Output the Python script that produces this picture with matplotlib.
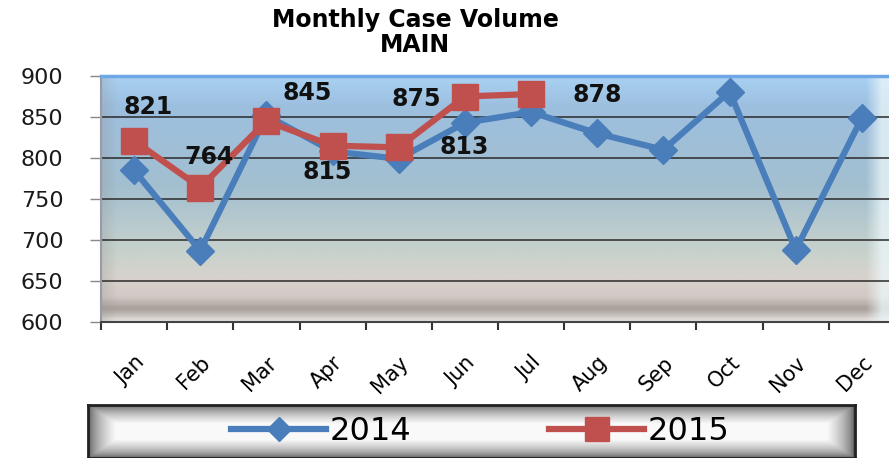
import matplotlib.pyplot as plt
import numpy as np
from matplotlib.colors import LinearSegmentedColormap

months = ['Jan', 'Feb', 'Mar', 'Apr', 'May', 'Jun', 'Jul', 'Aug', 'Sep', 'Oct', 'Nov', 'Dec']
vol_2014 = [785, 687, 852, 808, 799, 843, 856, 830, 810, 881, 688, 849]
vol_2015 = [821, 764, 845, 815, 813, 875, 878]
# label offsets (points) as placed in the original chart
lbl_off = [(10, 24), (6, 22), (29, 20), (-4, -19), (47, 0), (-35, -2), (48, -1)]

blue = '#4a7ebb'
red = '#c0504d'

plt.rcParams['font.family'] = 'DejaVu Sans'

fig = plt.figure(figsize=(8.89, 4.58), dpi=100)

# --- plot area background (bevelled gradient) ---
ax = fig.add_axes([101/889, 1 - 322/458, (895-101)/889, 246/458])
H, W = 200, 400
cmap = LinearSegmentedColormap.from_list('bg', [
    (0.0, '#a9d1f2'), (0.12, '#9dbfdf'), (0.45, '#a3bfd0'),
    (0.72, '#c8d2cc'), (0.82, '#d8d2cc'), (0.9, '#d2c9c5'),
    (0.95, '#a89e99'), (1.0, '#e6e2df')])
rows = np.linspace(0, 1, H)[:, None] * np.ones((1, W))
img = cmap(rows)
# left shadow and right highlight
cols = np.linspace(0, 1, W)[None, :] * np.ones((H, 1))
left = np.clip(1 - cols / 0.02, 0, 1)[..., None] * 0.25
img[..., :3] = img[..., :3] * (1 - left) + 0.55 * left
right = np.clip((cols - 0.965) / 0.02, 0, 1)[..., None] * 0.75
img[..., :3] = img[..., :3] * (1 - right) + np.array([0.93, 0.97, 0.98]) * right
ax.imshow(img, extent=(0, 12, 600, 900), aspect='auto', zorder=0)

x = np.arange(len(months)) + 0.5
ax.set_xlim(0, 12)
ax.set_ylim(600, 900)
for g in [650, 700, 750, 800, 850]:
    ax.axhline(g, color='#2a2a2a', lw=1.1, zorder=1)

ax.plot(x, vol_2014, color=blue, lw=4.5, marker='D', ms=14, zorder=3)
x15 = x[:len(vol_2015)]
ax.plot(x15, vol_2015, color=red, lw=4.5, marker='s', ms=19, zorder=4)

for xi, v, off in zip(x15, vol_2015, lbl_off):
    ax.annotate(str(v), (xi, v), xytext=off, textcoords='offset points',
                ha='center', va='center', fontsize=17, fontweight='bold',
                color='#111111', zorder=5)

ax.set_yticks([600, 650, 700, 750, 800, 850, 900])
ax.tick_params(axis='y', length=8, width=1, color='#888888', pad=19,
               labelsize=16, labelcolor='#1a1a1a')
ax.set_xticks(np.arange(13))
ax.set_xticklabels([])
ax.set_xticks(x, minor=True)
ax.set_xticklabels(months, minor=True, rotation=45, ha='right',
                   rotation_mode='anchor', fontsize=15)
ax.tick_params(axis='x', which='major', length=6, width=1.5, color='#333333')
ax.tick_params(axis='x', which='minor', length=0, pad=22)
ax.spines['top'].set_color('#6fa6e6')
ax.spines['top'].set_linewidth(2.5)
ax.spines['right'].set_visible(False)
ax.spines['left'].set_color('#9a9aa8')
ax.spines['left'].set_linewidth(1.5)
ax.spines['bottom'].set_color('#444444')
ax.spines['bottom'].set_linewidth(1.5)

fig.text(415/889, 1 - 20/458, 'Monthly Case Volume', ha='center', va='center',
         fontsize=17, fontweight='bold')
fig.text(415/889, 1 - 45/458, 'MAIN', ha='center', va='center',
         fontsize=17, fontweight='bold')

# --- legend box ---
lax = fig.add_axes([88/889, 0, (855-88)/889, (458-405)/458])
lh, lw = 60, 400
yy = np.linspace(0, 1, lh)[:, None] * np.ones((1, lw))
xx = np.linspace(0, 1, lw)[None, :] * np.ones((lh, 1))
d = np.minimum(np.minimum(yy, 1 - yy) / 0.35, np.minimum(xx, 1 - xx) / 0.035)
shade = 0.35 + 0.63 * np.clip(d, 0, 1) ** 0.6
lax.imshow(np.dstack([shade] * 3), extent=(0, 1, 0, 1), aspect='auto')
lax.set_xticks([])
lax.set_yticks([])
for s in lax.spines.values():
    s.set_color('#222222')
    s.set_linewidth(2)

h1, = ax.plot([], [], color=blue, lw=4.5, marker='D', ms=12)
h2, = ax.plot([], [], color=red, lw=4.5, marker='s', ms=17)
fig.legend([h1, h2], ['2014', '2015'], loc='center',
           bbox_to_anchor=(480/889, 1 - 432/458), ncol=2, frameon=False,
           fontsize=23, handlelength=3, handletextpad=0.1, columnspacing=4.3)

fig.savefig('out.png', dpi=100)
